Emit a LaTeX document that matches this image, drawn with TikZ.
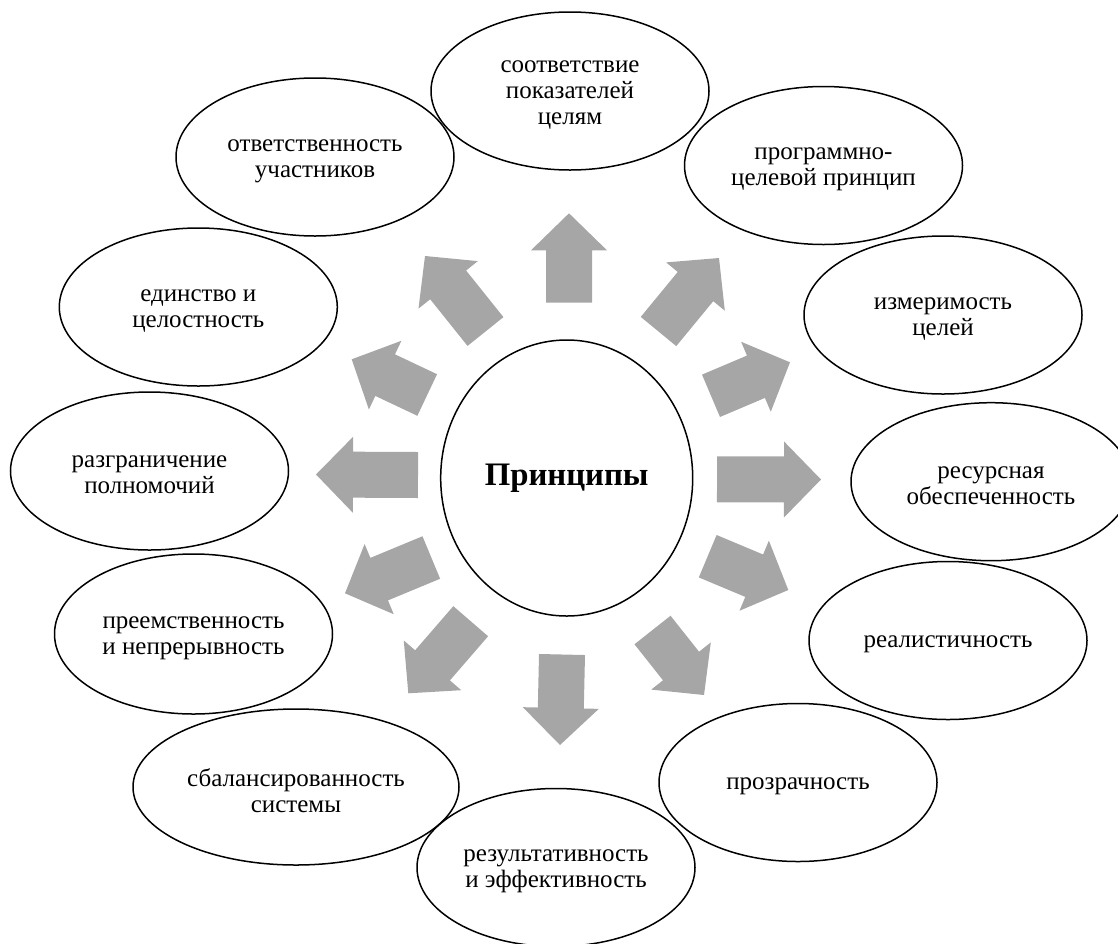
\documentclass[tikz,border=0pt]{standalone}
\usepackage{fontspec}
\setmainfont{Liberation Serif}
\usetikzlibrary{shapes.geometric,calc}
\definecolor{arrowgray}{HTML}{A6A6A6}
\begin{document}
\begin{tikzpicture}[x=1pt,y=-1pt,
  item/.style={ellipse, draw=black, line width=1.5pt, minimum width=278pt, minimum height=158pt, inner sep=0pt},
  itemtext/.style={inner sep=0pt, align=center, font=\fontsize{25}{25.8}\selectfont, yshift=-4pt},
  hub/.style={ellipse, draw=black, line width=1.5pt, minimum width=252pt, minimum height=276pt, inner sep=0pt, font=\fontsize{32.8}{36}\selectfont\bfseries},
  blockarrow/.style={fill=arrowgray, draw=none}]
\useasboundingbox (0,0) rectangle (1118,943);
\clip (0,0) rectangle (1118,943);

\node[hub] (hub) at (566.7,478) {Принципы};

\node[item] (n1) at (570,91) {};
\node[item] (n2) at (823.5,165.5) {};
\node[item] (n3) at (943,315) {};
\node[item, minimum width=280pt] (n4) at (991,481.7) {};
\node[item] (n5) at (948,640.5) {};
\node[item] (n6) at (798,782.5) {};
\node[item] (n7) at (556,867.5) {};
\node[item, minimum width=326pt, minimum height=156pt] (n8) at (296,787) {};
\node[item, minimum height=160pt] (n9) at (193.5,634) {};
\node[item] (n10) at (149.5,471) {};
\node[item] (n11) at (198.3,307) {};
\node[item] (n12) at (315,157) {};

\node[itemtext] (n1t) at (n1.center) {соответствие\\показателей\\целям};
\node[itemtext] (n2t) at (n2.center) {программно-\\целевой принцип};
\node[itemtext] (n3t) at (n3.center) {измеримость\\целей};
\node[itemtext] (n4t) at (n4.center) {ресурсная\\обеспеченность};
\node[itemtext] (n5t) at (n5.center) {реалистичность};
\node[itemtext] (n6t) at (n6.center) {прозрачность};
\node[itemtext] (n7t) at (n7.center) {результативность\\и эффективность};
\node[itemtext] (n8t) at (n8.center) {сбалансированность\\системы};
\node[itemtext] (n9t) at (n9.center) {преемственность\\и непрерывность};
\node[itemtext] (n10t) at (n10.center) {разграничение\\полномочий};
\node[itemtext] (n11t) at (n11.center) {единство и\\целостность};
\node[itemtext] (n12t) at (n12.center) {ответственность\\участников};

\foreach \i/\tx/\ty/\px/\py in {
  1/569/302.7/569/213.3,
  2/658.5/331.5/719/258,
  3/711/395.8/790/362.3,
  4/717/479.4/821/479.5,
  5/707.7/556.2/788.3/590,
  6/652.5/630/704/695,
  7/562/654.5/560/745,
  8/470.7/621.2/408.3/693.3,
  9/431.3/557.5/345/593.3,
  10/418/475/316/474.5,
  11/427.2/395/351.7/359.3,
  12/485.5/331.5/425/256} {
  \coordinate (t\i) at (\tx,\ty);
  \coordinate (p\i) at (\px,\py);
  \coordinate (b\i) at ($(p\i)!37pt!(t\i)$);
  \fill[blockarrow] ($(t\i)!23pt!90:(p\i)$) -- ($(b\i)!23pt!-90:(t\i)$) -- ($(b\i)!38pt!-90:(t\i)$) -- (p\i) -- ($(b\i)!38pt!90:(t\i)$) -- ($(b\i)!23pt!90:(t\i)$) -- ($(t\i)!23pt!-90:(p\i)$) -- cycle;
}
\end{tikzpicture}
\end{document}
